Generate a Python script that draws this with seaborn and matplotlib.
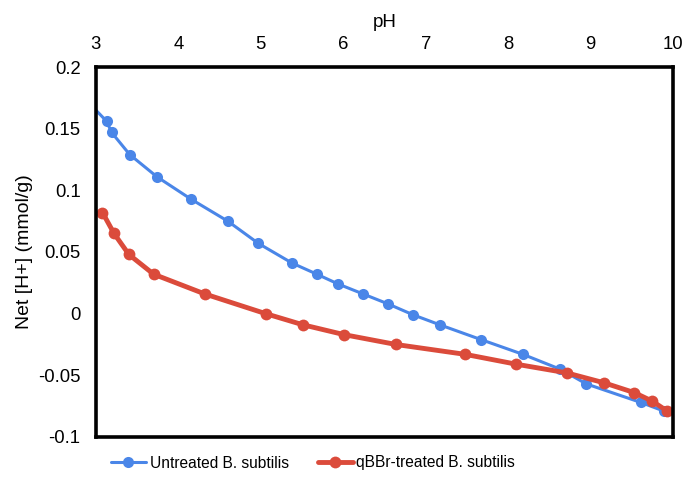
import matplotlib
matplotlib.use("Agg")
import matplotlib.pyplot as plt
import seaborn as sns
import pandas as pd
from matplotlib.ticker import FuncFormatter, MultipleLocator

# Data
ph_untreated = [3.00, 3.13, 3.19, 3.41, 3.74, 4.15, 4.60, 4.97, 5.38, 5.68, 5.94,
                6.24, 6.54, 6.85, 7.17, 7.67, 8.18, 8.63, 8.95, 9.61, 9.89]
h_untreated = [0.165, 0.156, 0.147, 0.129, 0.111, 0.093, 0.075, 0.057, 0.041, 0.032, 0.024,
               0.016, 0.008, -0.001, -0.009, -0.021, -0.033, -0.045, -0.057, -0.072, -0.079]
ph_treated = [3.08, 3.22, 3.40, 3.70, 4.32, 5.06, 5.51, 6.01, 6.64, 7.48, 8.10,
              8.71, 9.16, 9.53, 9.75, 9.93]
h_treated = [0.082, 0.065, 0.048, 0.032, 0.016, 0.000, -0.009, -0.017, -0.025, -0.033, -0.041,
             -0.048, -0.056, -0.064, -0.071, -0.079]
labels = ["Untreated B. subtilis", "qBBr-treated B. subtilis"]
colors = ["#4A86E8", "#DB4B3B"]

sns.set_style("white")
plt.rcParams['font.family'] = ['Liberation Sans', 'DejaVu Sans']
plt.rcParams['axes.unicode_minus'] = False
plt.rcParams['text.color'] = 'black'
plt.rcParams['axes.labelcolor'] = 'black'
plt.rcParams['xtick.color'] = 'black'
plt.rcParams['ytick.color'] = 'black'

df_u = pd.DataFrame({"pH": ph_untreated, "H": h_untreated})
df_t = pd.DataFrame({"pH": ph_treated, "H": h_treated})

fig = plt.figure(figsize=(6.85, 4.87), dpi=100)
ax = fig.add_axes([0.140, 0.1027, 0.8425, 0.7597])

sns.lineplot(data=df_u, x="pH", y="H", ax=ax, color=colors[0], linewidth=2.2,
             marker="o", markersize=8, markeredgewidth=0, markevery=slice(1, None),
             label=labels[0], sort=False, legend=False)
sns.lineplot(data=df_t, x="pH", y="H", ax=ax, color=colors[1], linewidth=3.5,
             marker="o", markersize=8.5, markeredgewidth=0,
             label=labels[1], sort=False, legend=False)

ax.set_xlim(3, 10)
ax.set_ylim(-0.1, 0.2)
ax.xaxis.set_major_locator(MultipleLocator(1))
ax.yaxis.set_major_locator(MultipleLocator(0.05))
ax.yaxis.set_major_formatter(FuncFormatter(lambda v, p: "%g" % round(v, 4)))
ax.xaxis.tick_top()
ax.xaxis.set_label_position("top")
ax.tick_params(axis="x", length=0, labelsize=13.3, pad=10)
ax.tick_params(axis="y", length=0, labelsize=13.3, pad=11)
ax.set_xlabel("pH", fontsize=13.5, labelpad=6.5)
ax.set_ylabel("Net [H+] (mmol/g)", fontsize=14, labelpad=4)
for s in ax.spines.values():
    s.set_visible(True)
    s.set_color("black")
    s.set_linewidth(2.6)
ax.grid(False)

handles, lbls = ax.get_legend_handles_labels()
fig.legend(handles, lbls, loc="center", bbox_to_anchor=(313 / 685, 1 - 463 / 487),
           ncol=2, frameon=False, fontsize=11.2, handlelength=2.25,
           columnspacing=1.85, handletextpad=0.25)

fig.savefig("out.png", dpi=100)
